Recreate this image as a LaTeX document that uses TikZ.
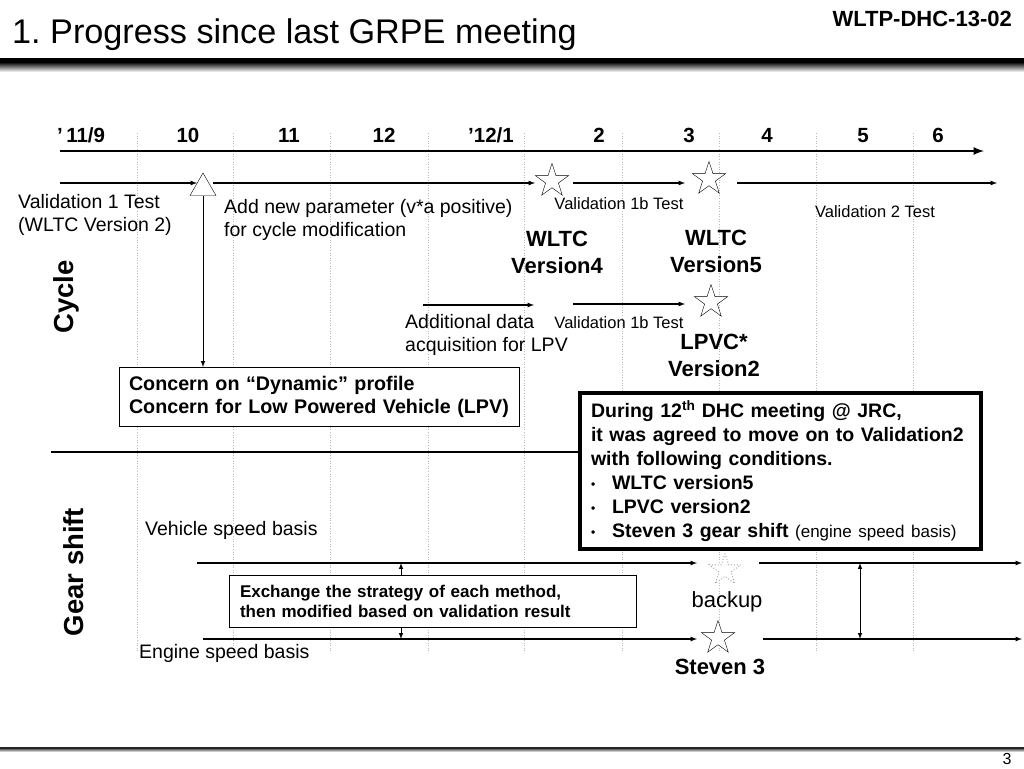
\documentclass[tikz,border=0pt]{standalone}
\usepackage{fontspec}
\setmainfont{Liberation Sans}
\usetikzlibrary{shapes.geometric}
\newcommand\fsz[2]{\fontsize{#1}{#2}\selectfont}
\newcommand\bul{\makebox[21pt][l]{\raisebox{1.5pt}{\fsz{12}{12}\textbullet}}}

\begin{document}
\begin{tikzpicture}[>=latex,x=1pt,y=-1pt,
    txt/.style={font=\fsz{19.5}{23},align=left,inner sep=0pt},
    smalltxt/.style={font=\fsz{16.5}{20},inner sep=0pt},
    vers/.style={font=\bfseries\fsz{22}{27},align=center,inner sep=0pt},
    month/.style={font=\bfseries\fsz{20.5}{24},inner sep=0pt,anchor=base},
    side/.style={font=\bfseries\fsz{27.5}{30},rotate=90,inner sep=0pt},
    milestone/.style={star,star points=5,star point ratio=2.6,draw,fill=white,
        minimum size=35pt,inner sep=0pt},
    run/.style={->,line width=1.2pt},
    note/.style={draw,fill=white,anchor=north west,align=left,outer sep=0pt,inner ysep=0pt}]
        \fill[white](0,0)rectangle(1024,768);
        \useasboundingbox(0,0)rectangle(1024,768);
        % header and footer bars
        \node[anchor=base west,font=\fsz{34.2}{36},inner sep=0pt](title)at(12,44)
            {1.\ Progress since last GRPE meeting};
        \node[anchor=base east,font=\bfseries\fsz{22}{24},inner sep=0pt](docid)at(1012,27)
            {WLTP-DHC-13-02};
        \fill[black](0,58)rectangle(1024,62);
        \shade[top color=black,bottom color=white](0,62)rectangle(1024,72);
        \fill[black!85](0,746.5)rectangle(1024,749);
        \shade[top color=black!60,bottom color=white](0,749)rectangle(1024,752);
        \node[font=\fsz{16}{18},inner sep=0pt](page)at(1007,759){3};
        % month grid
        \foreach \gx in {137,233,330,428,524,622,719,816,913}
            \draw[gray!55,dotted,line width=0.6pt](\gx,133)--(\gx,652);
        \node[month,anchor=base west](m9)at(57,142){’\,11/9};
        \foreach \mx/\ml in {188/10,289/11,384/12,491/’12\slash1,599/2,689/3,767/4,863/5,938/6}
            \node[month](m\mx)at(\mx,142){\ml};
        \coordinate(axL)at(60,151);
        \coordinate(axR)at(984,151);
        \draw[->,line width=2.5pt](axL)--(axR);
        % cycle row
        \node[regular polygon,regular polygon sides=3,draw,fill=white,minimum size=30pt,
            inner sep=0pt](tri)at(203,188){};
        \node[milestone](v4)at(552,181){};
        \node[milestone](v5)at(709,179){};
        \node[milestone](lpvc)at(711,302){};
        \coordinate(r1a)at(60,183);  \coordinate(r1b)at(197,183);
        \coordinate(r1c)at(213,183); \coordinate(r1d)at(535,183);
        \coordinate(r1e)at(573,183); \coordinate(r1f)at(685,183);
        \coordinate(r1g)at(737,183); \coordinate(r1h)at(997,183);
        \draw[run](r1a)--(r1b);
        \draw[run](r1c)--(r1d);
        \draw[run](r1e)--(r1f);
        \draw[run](r1g)--(r1h);
        \coordinate(r2a)at(423,305); \coordinate(r2b)at(534,305);
        \coordinate(r2c)at(573,304); \coordinate(r2d)at(685,304);
        \draw[run](r2a)--(r2b);
        \draw[run](r2c)--(r2d);
        \node[txt,anchor=west](val1)at(18,215){Validation 1 Test\\(WLTC Version 2)};
        \node[txt,anchor=west](param)at(224,219.5){Add new parameter (v*a positive)\\for cycle modification};
        \node[smalltxt](val1b)at(619,204){Validation 1b Test};
        \node[smalltxt](val2)at(875,212){Validation 2 Test};
        \node[vers](wltc4)at(557,252){WLTC\\Version4};
        \node[vers](wltc5)at(716,251){WLTC\\Version5};
        \node[txt,anchor=west](adddata)at(405,334.5){Additional data\\acquisition for LPV};
        \node[smalltxt](val1c)at(619,323){Validation 1b Test};
        \node[vers](lpvc2)at(714,355.5){LPVC*\\Version2};
        \node[side](cycle)at(66,297){Cycle};
        \node[note,font=\bfseries\fsz{19.7}{23},minimum width=400pt,minimum height=59pt,
            text width=380pt,inner xsep=10pt](concern)at(119,367)
            {Concern on “Dynamic” profile\\Concern for Low Powered Vehicle (LPV)};
        \draw[->,line width=1pt](tri.south)--(tri.south|-concern.north);
        % agreement box
        \node[note,line width=4pt,font=\bfseries\fsz{19.5}{24},minimum width=401pt,
            minimum height=156pt,text width=379pt,inner xsep=11pt](dhc)at(580,393)
            {During 12\textsuperscript{th} DHC meeting @ JRC,\\
             it was agreed to move on to Validation2\\
             with following conditions.\\
             \bul WLTC version5\\
             \bul LPVC version2\\
             \bul Steven 3 gear shift {\mdseries\fsz{17}{24}(engine speed basis)}};
        \coordinate(sepL)at(51,452);
        \draw[line width=1.5pt](sepL)--(sepL-|dhc.west);
        % gear shift rows
        \node[side](gear)at(74,572){Gear shift};
        \node[txt,anchor=west](vsb)at(145,530){Vehicle speed basis};
        \node[txt,anchor=west](esb)at(139,653){Engine speed basis};
        \coordinate(g1a)at(197,563); \coordinate(g1b)at(697,563);
        \coordinate(g1c)at(759,563); \coordinate(g1d)at(1022,563);
        \coordinate(g2a)at(203,639); \coordinate(g2b)at(697,639);
        \coordinate(g2c)at(763,639); \coordinate(g2d)at(1022,639);
        \draw[run](g1a)--(g1b);
        \draw[run](g1c)--(g1d);
        \draw[run](g2a)--(g2b);
        \draw[run](g2c)--(g2d);
        \draw[<->,line width=1pt](g1a-|401,0)--(g2a-|401,0);
        \draw[<->,line width=1pt](g1a-|860,0)--(g2a-|860,0);
        \node[note,font=\bfseries\fsz{17}{20},minimum width=407pt,minimum height=52pt,
            text width=385pt,inner xsep=11pt](swap)at(229,575)
            {Exchange the strategy of each method,\\then modified based on validation result};
        \node[milestone,draw=gray!75,dotted,line width=0.9pt,minimum size=33pt](backup)at(725,570){};
        \node[font=\fsz{22}{24},inner sep=0pt](backuplbl)at(727,602){backup};
        \node[milestone](steven)at(718,638){};
        \node[font=\bfseries\fsz{22}{24},inner sep=0pt](stevenlbl)at(720,667){Steven 3};
    \end{tikzpicture}
\end{document}
